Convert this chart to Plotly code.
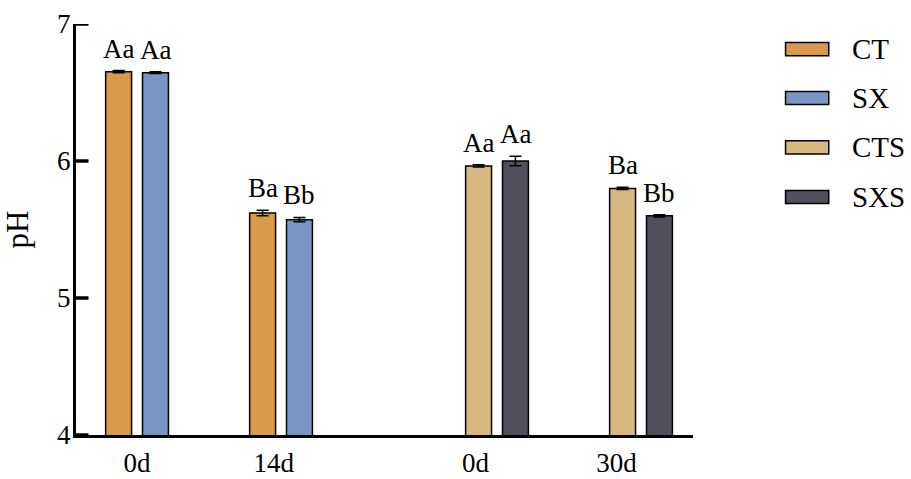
import plotly.graph_objects as go

# Sampling groups: two storage series, each with two time points
group_pos = [1.0, 2.0, 3.5, 4.5]
tick_pos = [1.0, 1.95, 3.35, 4.33]
tick_text = ["0d", "14d", "0d", "30d"]
y_ticks = [4, 5, 6, 7]

series = ["CT", "SX", "CTS", "SXS"]
colors = ["#D99A4E", "#7896C4", "#D6B880", "#504F5B"]

# pH means and standard deviations for each series
ct_ph = [6.652, 5.62]
ct_err = [0.008, 0.02]
sx_ph = [6.645, 5.572]
sx_err = [0.006, 0.016]
cts_ph = [5.964, 5.80]
cts_err = [0.008, 0.008]
sxs_ph = [6.00, 5.60]
sxs_err = [0.035, 0.008]

# Significance letters
ct_sig = ["Aa", "Ba"]
sx_sig = ["Aa", "Bb"]
cts_sig = ["Aa", "Ba"]
sxs_sig = ["Aa", "Bb"]

bar_w = 0.18
half_gap = 0.128
x_range = [0.576, 4.861]

FONT = "Liberation Serif"

fig = go.Figure()

traces = [
    ("CT", group_pos[0:2], ct_ph, ct_err, ct_sig, colors[0], -1),
    ("SX", group_pos[0:2], sx_ph, sx_err, sx_sig, colors[1], 1),
    ("CTS", group_pos[2:4], cts_ph, cts_err, cts_sig, colors[2], -1),
    ("SXS", group_pos[2:4], sxs_ph, sxs_err, sxs_sig, colors[3], 1),
]

annotations = []
for name, xs, ys, errs, sigs, col, side in traces:
    off = side * half_gap - bar_w / 2
    fig.add_trace(go.Bar(
        name=name, x=xs, y=ys,
        width=bar_w, offset=off,
        marker=dict(color=col, line=dict(color="black", width=1.5)),
        error_y=dict(type="data", array=errs, visible=True,
                     color="black", thickness=1.5, width=6),
        showlegend=False,
    ))
    for x, y, e, s in zip(xs, ys, errs, sigs):
        annotations.append(dict(
            x=x + side * half_gap, y=y + e, xref="x", yref="y",
            text=s, showarrow=False, yanchor="bottom", yshift=5,
            font=dict(family=FONT, size=27, color="black"),
        ))

# Inward-pointing tick marks on the pH axis
tick_len = 0.02 * (x_range[1] - x_range[0])
tx, ty = [], []
for t in y_ticks:
    tx += [x_range[0], x_range[0] + tick_len, None]
    ty += [t, t, None]
fig.add_trace(go.Scatter(
    x=tx, y=ty, mode="lines", line=dict(color="black", width=3),
    hoverinfo="skip", showlegend=False, cliponaxis=False,
))

shapes = []
for t in y_ticks:
    shapes.append(dict(
        type="line", xref="paper", yref="y", layer="above",
        x0=0, x1=0.02, y0=t, y1=t,
        line=dict(color="black", width=3),
    ))

# Legend drawn as wide swatches at the right of the plot area
leg_y = [0.939, 0.820, 0.700, 0.579]
for name, col, ly in zip(series, colors, leg_y):
    shapes.append(dict(
        type="rect", xref="paper", yref="paper",
        x0=1.150, x1=1.220, y0=ly - 0.016, y1=ly + 0.016,
        fillcolor=col, line=dict(color="black", width=1.5),
    ))
    annotations.append(dict(
        x=1.255, y=ly, xref="paper", yref="paper", text=name,
        showarrow=False, xanchor="left", yanchor="middle",
        font=dict(family=FONT, size=29, color="black"),
    ))

fig.update_layout(
    width=911, height=479,
    margin=dict(l=76, r=218, t=24, b=44),
    plot_bgcolor="white", paper_bgcolor="white",
    barmode="overlay",
    annotations=annotations, shapes=shapes,
    font=dict(family=FONT, color="black"),
    xaxis=dict(
        range=x_range, tickvals=tick_pos, ticktext=tick_text,
        showline=True, linecolor="black", linewidth=3,
        ticks="", showgrid=False, zeroline=False, automargin=False,
        tickfont=dict(family=FONT, size=27, color="black"),
        ticklabelstandoff=2,
    ),
    yaxis=dict(
        range=[4, 7], tickvals=y_ticks,
        showline=True, linecolor="black", linewidth=3,
        ticks="", showgrid=False, zeroline=False, automargin=False,
        tickfont=dict(family=FONT, size=27, color="black"),
        ticklabelstandoff=-3,
        title=dict(text="pH", font=dict(family=FONT, size=31, color="black"),
                   standoff=20),
    ),
)

fig.write_html("out.html")
